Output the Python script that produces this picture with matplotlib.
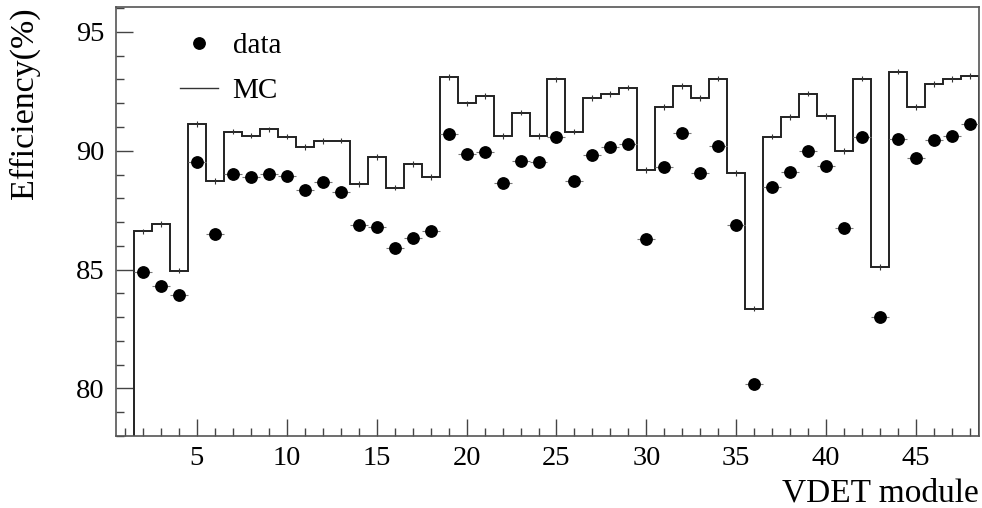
import matplotlib
matplotlib.use("Agg")
import matplotlib.pyplot as plt
from matplotlib.lines import Line2D
from matplotlib.ticker import MultipleLocator
import numpy as np

plt.rcParams['font.family'] = ['Liberation Serif', 'DejaVu Serif']

# data: VDET modules 2..48
data_modules = list(range(2, 49))
data_eff = [84.89, 84.33, 83.94, 89.54, 86.50, 89.02, 88.88, 89.03, 88.92, 88.35,
            88.68, 88.25, 86.89, 86.78, 85.91, 86.33, 86.63, 90.71, 89.87, 89.96,
            88.64, 89.59, 89.54, 90.60, 88.75, 89.82, 90.15, 90.27, 86.29, 89.32,
            90.74, 89.06, 90.21, 86.89, 80.17, 88.47, 89.09, 89.99, 89.38, 86.74,
            90.56, 83.00, 90.49, 89.71, 90.45, 90.62, 91.12]
data_xerr = 0.5

# MC histogram: bins for modules 2..48
mc_edges = [m - 0.5 for m in range(2, 50)]
mc_eff = [86.61, 86.93, 84.96, 91.12, 88.74, 90.81, 90.64, 90.90, 90.60, 90.15,
          90.41, 90.43, 88.61, 89.73, 88.45, 89.45, 88.89, 93.11, 91.99, 92.32,
          90.63, 91.61, 90.63, 93.00, 90.81, 92.23, 92.38, 92.66, 89.19, 91.84,
          92.73, 92.23, 93.04, 89.06, 83.36, 90.60, 91.43, 92.41, 91.47, 89.99,
          93.04, 85.10, 93.33, 91.84, 92.82, 93.03, 93.14]
mc_err = 0.12

xlim = (0.5, 48.5)
ylim = (78.0, 96.05)

fig = plt.figure(figsize=(9.82, 5.08), dpi=100)
ax = fig.add_axes([116/982, 1 - 436/508, (979-116)/982, (436-7)/508])

ax.stairs(mc_eff, mc_edges, baseline=ylim[0], color='#222222', lw=1.4, zorder=2)
ax.errorbar(data_modules, mc_eff, yerr=mc_err, fmt='none', ecolor='#333333',
            elinewidth=0.8, zorder=2)
ax.errorbar(data_modules, data_eff, xerr=data_xerr, fmt='o', color='black',
            ms=8.2, ecolor='#777777', elinewidth=0.8, zorder=3)

ax.set_xlim(*xlim)
ax.set_ylim(*ylim)
ax.xaxis.set_major_locator(MultipleLocator(5))
ax.xaxis.set_minor_locator(MultipleLocator(1))
ax.yaxis.set_major_locator(MultipleLocator(5))
ax.yaxis.set_minor_locator(MultipleLocator(1))
ax.tick_params(which='both', direction='in', top=False, right=False,
               color='#444444', labelsize=20.5)
ax.tick_params(axis='y', pad=8.5)
ax.tick_params(axis='x', pad=7.5)
ax.tick_params(which='major', length=12.2, width=1.0)
ax.tick_params(which='minor', length=5.8, width=1.0)
for s in ax.spines.values():
    s.set_color('#555555')
    s.set_linewidth(1.2)

ax.set_xlabel('VDET module', fontsize=24, loc='right')
ax.xaxis.set_label_coords(1.0, -0.098)
ax.set_ylabel('Efficiency(%)', fontsize=24.5, loc='top')
ax.yaxis.set_label_coords(-0.088, 1.0)

handles = [Line2D([], [], marker='o', color='black', ls='none', ms=8.2),
           Line2D([], [], color='#333333', lw=1.0)]
ax.legend(handles, ['data', 'MC'], loc='upper left', frameon=False,
          bbox_to_anchor=((180-116)/863, (436-33)/429), borderaxespad=0,
          borderpad=0, fontsize=21, handlelength=1.3, handletextpad=0.5,
          labelspacing=0.62)

fig.savefig('out.png', dpi=100)
